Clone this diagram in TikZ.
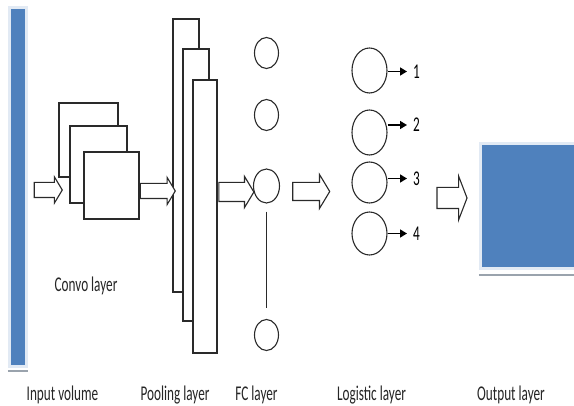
\documentclass[tikz,border=0pt]{standalone}
\usepackage{fontspec}
\setmainfont{Carlito}
\usepackage{graphicx}
\usetikzlibrary{shapes.geometric,shapes.arrows,arrows.meta}
\definecolor{bluefill}{HTML}{4F81BD}
\definecolor{framecol}{HTML}{E2EAF4}
\definecolor{edge}{HTML}{2A2A2A}
\definecolor{shadowline}{HTML}{9AA3AD}
\newcommand\lab[1]{\scalebox{0.63}[1]{\fontsize{21}{25}\selectfont #1}}
\begin{document}
\begin{tikzpicture}[x=1pt,y=-1pt,
  box/.style={draw=edge,line width=1.2pt,fill=white,rectangle,inner sep=0pt},
  neuron/.style={draw=edge,line width=1.1pt,ellipse,inner sep=0pt},
  harrow/.style={draw=edge,line width=1.1pt,single arrow,fill=white,inner xsep=0pt,
    single arrow tip angle=118},
  lbl/.style={inner sep=0pt,anchor=base,text=black!85},
  digit/.style={inner sep=0pt,anchor=west,text=black},
  outarrow/.style={-{Triangle[length=7pt,width=8pt]},line width=1.6pt,draw=black,shorten >=6pt},
  plain/.style={rectangle,inner sep=0pt,draw=none}
]
\useasboundingbox (0,0) rectangle (574,406);
\fill[white] (0,0) rectangle (574,406);

% input volume
\node[plain,fill=framecol,minimum width=20,minimum height=362] (inframe) at (18,187) {};
\node[plain,fill=bluefill,minimum width=14,minimum height=356] (input) at (18,187) {};
\draw[shadowline,line width=2pt] ([yshift=-3pt]inframe.south west) -- ([yshift=-3pt]inframe.south east);

% convo layer
\node[box,minimum width=59,minimum height=74] (c1) at (88.5,140) {};
\node[box,minimum width=57,minimum height=77] (c2) at (98.5,164.5) {};
\node[box,minimum width=55,minimum height=67] (c3) at (111.5,185.5) {};

% pooling layer
\node[box,minimum width=26,minimum height=273] (p1) at (186,155.5) {};
\node[box,minimum width=26,minimum height=272] (p2) at (196,185) {};
\node[box,minimum width=24,minimum height=273] (p3) at (205,216.5) {};

% FC layer
\node[neuron,minimum width=24,minimum height=31] (f1) at (266.5,53) {};
\node[neuron,minimum width=24,minimum height=31] (f2) at (266.5,115) {};
\node[neuron,minimum width=26,minimum height=34] (f3) at (266.5,186) {};
\node[neuron,minimum width=24,minimum height=31] (f4) at (266.5,335) {};
\draw[edge,line width=1pt,shorten <=8pt,shorten >=11pt] (f3.south) -- (f4.north);

% logistic layer
\node[neuron,minimum width=35,minimum height=45] (l1) at (369.5,70.5) {};
\node[neuron,minimum width=35,minimum height=45] (l2) at (369.5,132.5) {};
\node[neuron,minimum width=35,minimum height=41] (l3) at (369.5,182.5) {};
\node[neuron,minimum width=35,minimum height=43] (l4) at (369.5,233.5) {};
\node[digit] (n1) at (413,71.5) {\lab{1}};
\node[digit] (n2) at (413,125) {\lab{2}};
\node[digit] (n3) at (413,178.5) {\lab{3}};
\node[digit] (n4) at (413,233.5) {\lab{4}};
\draw[outarrow] (n1.west -| l1.east) -- (n1.west);
\draw[outarrow] (n2.west -| l2.east) -- (n2.west);
\draw[outarrow] (n3.west -| l3.east) -- (n3.west);
\draw[outarrow] (n4.west -| l4.east) -- (n4.west);

% output layer
\node[plain,fill=framecol,minimum width=95,minimum height=128] (outframe) at (526.5,206) {};
\node[plain,fill=bluefill,minimum width=92,minimum height=122] (output) at (528,206) {};
\draw[shadowline,line width=2pt] ([yshift=-5pt]outframe.south west) -- ([yshift=-5pt]outframe.south east);

% hollow arrows
\node[harrow,minimum height=28,inner ysep=7pt,single arrow head extend=5.5pt] (a1) at (46,190) {};
\node[harrow,minimum height=35,inner ysep=7pt,single arrow head extend=6pt] (a2) at (155.5,191) {};
\node[harrow,minimum height=35,inner ysep=9pt,single arrow head extend=6pt] (a3) at (233.5,192) {};
\node[harrow,minimum height=37,inner ysep=8.5pt,single arrow head extend=8pt] (a4) at (308.5,191.5) {};
\node[harrow,minimum height=30,inner ysep=10pt,single arrow head extend=11.5pt,single arrow tip angle=138] (a5) at (450,198) {};

% labels
\node[lbl] (tconv) at (86,292) {\lab{Convo layer}};
\node[lbl] (tin) at (62.5,401) {\lab{Input volume}};
\node[lbl] (tpool) at (175,401) {\lab{Pooling layer}};
\node[lbl] (tfc) at (256.5,401) {\lab{FC layer}};
\node[lbl] (tlog) at (371.5,401) {\lab{Logistic layer}};
\node[lbl] (tout) at (511,401) {\lab{Output layer}};
\end{tikzpicture}
\end{document}
